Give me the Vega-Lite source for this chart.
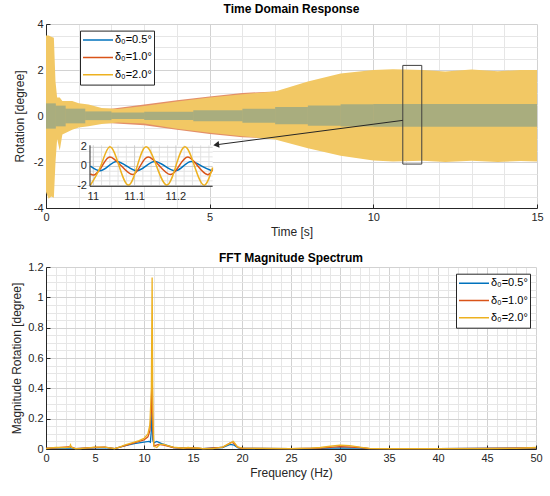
{
  "$schema": "https://vega.github.io/schema/vega-lite/v6.json",
  "padding": {"left": 10, "top": 3, "right": 4, "bottom": 4},
  "background": "white",
  "config": {
    "font": "Liberation Sans",
    "view": {"stroke": null},
    "axis": {
      "domainColor": "#262626", "labelColor": "#262626", "titleColor": "#262626",
      "labelFontSize": 11, "titleFontSize": 12, "titleFontWeight": "normal",
      "tickColor": "#262626", "labelOverlap": false, "labelFlush": false,
      "tickSize": -4, "labelPadding": 7, "grid": true
    },
    "title": {"fontSize": 12, "fontWeight": "bold", "color": "#000000"},
    "legend": {
      "symbolType": "stroke", "symbolSize": 900, "symbolStrokeWidth": 1.5,
      "labelFontSize": 11, "labelColor": "#000000", "strokeColor": "#262626",
      "fillColor": "#ffffff", "padding": 2, "clipHeight": 15, "rowPadding": 2.3,
      "labelOffset": 1, "cornerRadius": 0
    }
  },
  "datasets": {
    "blu": [
      {"t": 0, "t2": 0.3, "lo": -0.55, "hi": 0.55}, {"t": 0.3, "t2": 0.6, "lo": -0.45, "hi": 0.45},
      {"t": 0.6, "t2": 1.2, "lo": -0.32, "hi": 0.32}, {"t": 1.2, "t2": 2.0, "lo": -0.18, "hi": 0.2},
      {"t": 2.0, "t2": 3.0, "lo": -0.13, "hi": 0.15}, {"t": 3.0, "t2": 4.5, "lo": -0.17, "hi": 0.19},
      {"t": 4.5, "t2": 6.0, "lo": -0.23, "hi": 0.25}, {"t": 6.0, "t2": 7.0, "lo": -0.29, "hi": 0.31},
      {"t": 7.0, "t2": 8.0, "lo": -0.36, "hi": 0.39}, {"t": 8.0, "t2": 9.0, "lo": -0.42, "hi": 0.46},
      {"t": 9.0, "t2": 10.0, "lo": -0.46, "hi": 0.51}, {"t": 10.0, "t2": 15.0, "lo": -0.47, "hi": 0.52}
    ],
    "env": [
      {"s": "b", "t": 0, "lo": -1.3, "hi": 1.3}, {"s": "b", "t": 0.2, "lo": -1.3, "hi": 1.4},
      {"s": "b", "t": 0.3, "lo": -0.8, "hi": 0.7}, {"s": "b", "t": 0.6, "lo": -0.5, "hi": 0.5},
      {"s": "b", "t": 1.0, "lo": -0.35, "hi": 0.38}, {"s": "b", "t": 1.5, "lo": -0.3, "hi": 0.3},
      {"s": "b", "t": 2.0, "lo": -0.32, "hi": 0.32}, {"s": "b", "t": 3.0, "lo": -0.4, "hi": 0.5},
      {"s": "b", "t": 4.0, "lo": -0.6, "hi": 0.68}, {"s": "b", "t": 5.0, "lo": -0.78, "hi": 0.85},
      {"s": "b", "t": 6.0, "lo": -0.92, "hi": 1.0}, {"s": "b", "t": 7.0, "lo": -0.99, "hi": 1.07},
      {"s": "b", "t": 9.0, "lo": -1.0, "hi": 1.07}, {"s": "b", "t": 12.0, "lo": -1.0, "hi": 1.06},
      {"s": "b", "t": 15.0, "lo": -1.0, "hi": 1.05},
      {"s": "c", "t": 0, "lo": -3.3, "hi": 3.5}, {"s": "c", "t": 0.08, "lo": -3.6, "hi": 3.5},
      {"s": "c", "t": 0.16, "lo": -3.5, "hi": 3.45}, {"s": "c", "t": 0.24, "lo": -3.55, "hi": 3.4},
      {"s": "c", "t": 0.29, "lo": -2.0, "hi": 1.5}, {"s": "c", "t": 0.34, "lo": -1.0, "hi": 0.8},
      {"s": "c", "t": 0.42, "lo": -1.5, "hi": 0.8}, {"s": "c", "t": 0.5, "lo": -0.8, "hi": 0.65},
      {"s": "c", "t": 0.8, "lo": -0.6, "hi": 0.65}, {"s": "c", "t": 1.0, "lo": -0.5, "hi": 0.55},
      {"s": "c", "t": 1.3, "lo": -0.45, "hi": 0.5}, {"s": "c", "t": 1.7, "lo": -0.35, "hi": 0.35},
      {"s": "c", "t": 2.2, "lo": -0.28, "hi": 0.3}, {"s": "c", "t": 3.0, "lo": -0.33, "hi": 0.44},
      {"s": "c", "t": 4.0, "lo": -0.55, "hi": 0.63}, {"s": "c", "t": 5.0, "lo": -0.73, "hi": 0.8},
      {"s": "c", "t": 6.0, "lo": -0.88, "hi": 0.95}, {"s": "c", "t": 7.0, "lo": -1.02, "hi": 1.07},
      {"s": "c", "t": 8.0, "lo": -1.4, "hi": 1.5}, {"s": "c", "t": 9.0, "lo": -1.73, "hi": 1.85},
      {"s": "c", "t": 10.0, "lo": -1.94, "hi": 2.0}, {"s": "c", "t": 10.6, "lo": -1.98, "hi": 2.03},
      {"s": "c", "t": 11.5, "lo": -1.95, "hi": 2.0}, {"s": "c", "t": 12.2, "lo": -2.0, "hi": 1.94},
      {"s": "c", "t": 13.0, "lo": -1.95, "hi": 2.02}, {"s": "c", "t": 13.8, "lo": -2.0, "hi": 1.95},
      {"s": "c", "t": 14.5, "lo": -1.96, "hi": 2.0}, {"s": "c", "t": 15.0, "lo": -1.98, "hi": 2.0}
    ],
    "ins": [
      {"s": "δ₀=0.5°", "t": 10.993, "y": 0.035}, {"s": "δ₀=0.5°", "t": 11.016, "y": -0.45},
      {"s": "δ₀=0.5°", "t": 11.0365, "y": 0.035}, {"s": "δ₀=0.5°", "t": 11.057, "y": 0.52},
      {"s": "δ₀=0.5°", "t": 11.081, "y": 0.035}, {"s": "δ₀=0.5°", "t": 11.105, "y": -0.45},
      {"s": "δ₀=0.5°", "t": 11.127, "y": 0.035}, {"s": "δ₀=0.5°", "t": 11.149, "y": 0.52},
      {"s": "δ₀=0.5°", "t": 11.1735, "y": 0.035}, {"s": "δ₀=0.5°", "t": 11.198, "y": -0.45},
      {"s": "δ₀=0.5°", "t": 11.218, "y": 0.035}, {"s": "δ₀=0.5°", "t": 11.238, "y": 0.52},
      {"s": "δ₀=0.5°", "t": 11.2625, "y": 0.035}, {"s": "δ₀=0.5°", "t": 11.287, "y": -0.45},
      {"s": "δ₀=1.0°", "t": 10.993, "y": -0.78}, {"s": "δ₀=1.0°", "t": 11.004, "y": -0.85},
      {"s": "δ₀=1.0°", "t": 11.022, "y": 0.075}, {"s": "δ₀=1.0°", "t": 11.040, "y": 1.0},
      {"s": "δ₀=1.0°", "t": 11.0675, "y": 0.075}, {"s": "δ₀=1.0°", "t": 11.095, "y": -0.85},
      {"s": "δ₀=1.0°", "t": 11.114, "y": 0.075}, {"s": "δ₀=1.0°", "t": 11.133, "y": 1.0},
      {"s": "δ₀=1.0°", "t": 11.160, "y": 0.075}, {"s": "δ₀=1.0°", "t": 11.187, "y": -0.85},
      {"s": "δ₀=1.0°", "t": 11.208, "y": 0.075}, {"s": "δ₀=1.0°", "t": 11.229, "y": 1.0},
      {"s": "δ₀=1.0°", "t": 11.2525, "y": 0.075}, {"s": "δ₀=1.0°", "t": 11.276, "y": -0.85},
      {"s": "δ₀=1.0°", "t": 11.289, "y": -0.3},
      {"s": "δ₀=2.0°", "t": 10.993, "y": -1.95}, {"s": "δ₀=2.0°", "t": 11.018, "y": 0.05},
      {"s": "δ₀=2.0°", "t": 11.040, "y": 2.05}, {"s": "δ₀=2.0°", "t": 11.0625, "y": 0.05},
      {"s": "δ₀=2.0°", "t": 11.085, "y": -1.95}, {"s": "δ₀=2.0°", "t": 11.1065, "y": 0.05},
      {"s": "δ₀=2.0°", "t": 11.128, "y": 2.05}, {"s": "δ₀=2.0°", "t": 11.153, "y": 0.05},
      {"s": "δ₀=2.0°", "t": 11.178, "y": -1.95}, {"s": "δ₀=2.0°", "t": 11.200, "y": 0.05},
      {"s": "δ₀=2.0°", "t": 11.222, "y": 2.05}, {"s": "δ₀=2.0°", "t": 11.245, "y": 0.05},
      {"s": "δ₀=2.0°", "t": 11.268, "y": -1.95}, {"s": "δ₀=2.0°", "t": 11.289, "y": -0.1}
    ],
    "fft": [
      {"s": "δ₀=0.5°", "f": 0, "m": 0.004}, {"s": "δ₀=0.5°", "f": 1, "m": 0.006},
      {"s": "δ₀=0.5°", "f": 2.5, "m": 0.008}, {"s": "δ₀=0.5°", "f": 3, "m": 0.002},
      {"s": "δ₀=0.5°", "f": 5, "m": 0.008}, {"s": "δ₀=0.5°", "f": 6, "m": 0.01},
      {"s": "δ₀=0.5°", "f": 7, "m": 0.003}, {"s": "δ₀=0.5°", "f": 8, "m": 0.02},
      {"s": "δ₀=0.5°", "f": 9, "m": 0.035}, {"s": "δ₀=0.5°", "f": 10, "m": 0.045},
      {"s": "δ₀=0.5°", "f": 10.5, "m": 0.05}, {"s": "δ₀=0.5°", "f": 10.65, "m": 0.045},
      {"s": "δ₀=0.5°", "f": 10.75, "m": 0.12}, {"s": "δ₀=0.5°", "f": 10.83, "m": 0.28},
      {"s": "δ₀=0.5°", "f": 10.9, "m": 0.06}, {"s": "δ₀=0.5°", "f": 11.0, "m": 0.04},
      {"s": "δ₀=0.5°", "f": 11.3, "m": 0.05}, {"s": "δ₀=0.5°", "f": 11.8, "m": 0.035},
      {"s": "δ₀=0.5°", "f": 12.5, "m": 0.02}, {"s": "δ₀=0.5°", "f": 13, "m": 0.01},
      {"s": "δ₀=0.5°", "f": 14, "m": 0.005}, {"s": "δ₀=0.5°", "f": 15, "m": 0.005},
      {"s": "δ₀=0.5°", "f": 16, "m": 0.002}, {"s": "δ₀=0.5°", "f": 18, "m": 0.01},
      {"s": "δ₀=0.5°", "f": 18.8, "m": 0.03}, {"s": "δ₀=0.5°", "f": 19.2, "m": 0.025},
      {"s": "δ₀=0.5°", "f": 19.6, "m": 0.008}, {"s": "δ₀=0.5°", "f": 20, "m": 0.004},
      {"s": "δ₀=0.5°", "f": 25, "m": 0.002}, {"s": "δ₀=0.5°", "f": 28, "m": 0.004},
      {"s": "δ₀=0.5°", "f": 30, "m": 0.008}, {"s": "δ₀=0.5°", "f": 32, "m": 0.006},
      {"s": "δ₀=0.5°", "f": 33, "m": 0.002}, {"s": "δ₀=0.5°", "f": 40, "m": 0.002},
      {"s": "δ₀=0.5°", "f": 50, "m": 0.006},
      {"s": "δ₀=1.0°", "f": 0, "m": 0.005}, {"s": "δ₀=1.0°", "f": 1, "m": 0.008},
      {"s": "δ₀=1.0°", "f": 2.5, "m": 0.015}, {"s": "δ₀=1.0°", "f": 3, "m": 0.003},
      {"s": "δ₀=1.0°", "f": 5, "m": 0.01}, {"s": "δ₀=1.0°", "f": 6, "m": 0.012},
      {"s": "δ₀=1.0°", "f": 7, "m": 0.003}, {"s": "δ₀=1.0°", "f": 8, "m": 0.02},
      {"s": "δ₀=1.0°", "f": 9, "m": 0.04}, {"s": "δ₀=1.0°", "f": 9.5, "m": 0.05},
      {"s": "δ₀=1.0°", "f": 10, "m": 0.06}, {"s": "δ₀=1.0°", "f": 10.4, "m": 0.08},
      {"s": "δ₀=1.0°", "f": 10.6, "m": 0.12}, {"s": "δ₀=1.0°", "f": 10.75, "m": 0.25},
      {"s": "δ₀=1.0°", "f": 10.83, "m": 0.56}, {"s": "δ₀=1.0°", "f": 10.9, "m": 0.12},
      {"s": "δ₀=1.0°", "f": 11.0, "m": 0.02}, {"s": "δ₀=1.0°", "f": 11.5, "m": 0.03},
      {"s": "δ₀=1.0°", "f": 12, "m": 0.025}, {"s": "δ₀=1.0°", "f": 13, "m": 0.01},
      {"s": "δ₀=1.0°", "f": 14, "m": 0.005}, {"s": "δ₀=1.0°", "f": 15, "m": 0.007},
      {"s": "δ₀=1.0°", "f": 16, "m": 0.002}, {"s": "δ₀=1.0°", "f": 18, "m": 0.01},
      {"s": "δ₀=1.0°", "f": 18.8, "m": 0.04}, {"s": "δ₀=1.0°", "f": 19, "m": 0.045},
      {"s": "δ₀=1.0°", "f": 19.3, "m": 0.03}, {"s": "δ₀=1.0°", "f": 19.6, "m": 0.01},
      {"s": "δ₀=1.0°", "f": 20, "m": 0.005}, {"s": "δ₀=1.0°", "f": 25, "m": 0.003},
      {"s": "δ₀=1.0°", "f": 28, "m": 0.006}, {"s": "δ₀=1.0°", "f": 30, "m": 0.015},
      {"s": "δ₀=1.0°", "f": 32, "m": 0.01}, {"s": "δ₀=1.0°", "f": 33, "m": 0.003},
      {"s": "δ₀=1.0°", "f": 40, "m": 0.002}, {"s": "δ₀=1.0°", "f": 50, "m": 0.008},
      {"s": "δ₀=2.0°", "f": 0, "m": 0.003}, {"s": "δ₀=2.0°", "f": 0.5, "m": 0.008},
      {"s": "δ₀=2.0°", "f": 1, "m": 0.01}, {"s": "δ₀=2.0°", "f": 2, "m": 0.01},
      {"s": "δ₀=2.0°", "f": 2.4, "m": 0.012}, {"s": "δ₀=2.0°", "f": 2.5, "m": 0.028},
      {"s": "δ₀=2.0°", "f": 2.6, "m": 0.01}, {"s": "δ₀=2.0°", "f": 3, "m": 0.003},
      {"s": "δ₀=2.0°", "f": 3.5, "m": 0.002}, {"s": "δ₀=2.0°", "f": 4, "m": 0.006},
      {"s": "δ₀=2.0°", "f": 5, "m": 0.012}, {"s": "δ₀=2.0°", "f": 6, "m": 0.013},
      {"s": "δ₀=2.0°", "f": 6.5, "m": 0.008}, {"s": "δ₀=2.0°", "f": 7, "m": 0.002},
      {"s": "δ₀=2.0°", "f": 7.5, "m": 0.012}, {"s": "δ₀=2.0°", "f": 8, "m": 0.025},
      {"s": "δ₀=2.0°", "f": 9, "m": 0.045}, {"s": "δ₀=2.0°", "f": 9.5, "m": 0.055},
      {"s": "δ₀=2.0°", "f": 10, "m": 0.07}, {"s": "δ₀=2.0°", "f": 10.4, "m": 0.1},
      {"s": "δ₀=2.0°", "f": 10.6, "m": 0.16}, {"s": "δ₀=2.0°", "f": 10.75, "m": 0.4},
      {"s": "δ₀=2.0°", "f": 10.83, "m": 1.13}, {"s": "δ₀=2.0°", "f": 10.9, "m": 0.25},
      {"s": "δ₀=2.0°", "f": 11.0, "m": 0.02}, {"s": "δ₀=2.0°", "f": 11.3, "m": 0.01},
      {"s": "δ₀=2.0°", "f": 11.6, "m": 0.03}, {"s": "δ₀=2.0°", "f": 12, "m": 0.03},
      {"s": "δ₀=2.0°", "f": 12.5, "m": 0.02}, {"s": "δ₀=2.0°", "f": 13, "m": 0.012},
      {"s": "δ₀=2.0°", "f": 14, "m": 0.005}, {"s": "δ₀=2.0°", "f": 14.5, "m": 0.01},
      {"s": "δ₀=2.0°", "f": 15, "m": 0.006}, {"s": "δ₀=2.0°", "f": 15.5, "m": 0.008},
      {"s": "δ₀=2.0°", "f": 16, "m": 0.002}, {"s": "δ₀=2.0°", "f": 17, "m": 0.003},
      {"s": "δ₀=2.0°", "f": 18, "m": 0.012}, {"s": "δ₀=2.0°", "f": 18.7, "m": 0.035},
      {"s": "δ₀=2.0°", "f": 19, "m": 0.045}, {"s": "δ₀=2.0°", "f": 19.1, "m": 0.05},
      {"s": "δ₀=2.0°", "f": 19.3, "m": 0.035}, {"s": "δ₀=2.0°", "f": 19.5, "m": 0.015},
      {"s": "δ₀=2.0°", "f": 20, "m": 0.006}, {"s": "δ₀=2.0°", "f": 22, "m": 0.004},
      {"s": "δ₀=2.0°", "f": 25, "m": 0.003}, {"s": "δ₀=2.0°", "f": 27, "m": 0.006},
      {"s": "δ₀=2.0°", "f": 28, "m": 0.01}, {"s": "δ₀=2.0°", "f": 29, "m": 0.018},
      {"s": "δ₀=2.0°", "f": 30, "m": 0.025}, {"s": "δ₀=2.0°", "f": 31, "m": 0.022},
      {"s": "δ₀=2.0°", "f": 32, "m": 0.012}, {"s": "δ₀=2.0°", "f": 33, "m": 0.004},
      {"s": "δ₀=2.0°", "f": 35, "m": 0.003}, {"s": "δ₀=2.0°", "f": 40, "m": 0.003},
      {"s": "δ₀=2.0°", "f": 45, "m": 0.003}, {"s": "δ₀=2.0°", "f": 48, "m": 0.004},
      {"s": "δ₀=2.0°", "f": 50, "m": 0.01}
    ]
  },
  "spacing": 15,
  "resolve": {"scale": {"color": "independent"}, "legend": {"color": "independent"}},
  "vconcat": [
    {
      "width": 491,
      "height": 184,
      "title": {"text": "Time Domain Response", "offset": 2},
      "resolve": {"scale": {"x": "independent", "y": "independent"}},
      "layer": [
        {
          "encoding": {
            "x": {
              "field": "t", "type": "quantitative", "title": "Time [s]",
              "scale": {"domain": [0, 15], "nice": false, "zero": false},
              "axis": {
                "values": [0, 1, 2, 3, 4, 5, 6, 7, 8, 9, 10, 11, 12, 13, 14, 15],
                "labelExpr": "datum.value % 5 == 0 ? '' + datum.value : ''",
                "gridColor": {"condition": {"test": "datum.value % 5 == 0", "value": "#d2d2d2"}, "value": "#e6e6e6"},
                "tickOpacity": {"condition": {"test": "datum.value % 5 == 0", "value": 1}, "value": 0},
                "titlePadding": 4
              }
            },
            "y": {
              "field": "hi", "type": "quantitative", "title": "Rotation [degree]",
              "scale": {"domain": [-4, 4], "nice": false, "zero": false},
              "axis": {
                "values": [-4, -3.5, -3, -2.5, -2, -1.5, -1, -0.5, 0, 0.5, 1, 1.5, 2, 2.5, 3, 3.5, 4],
                "labelExpr": "datum.value % 2 == 0 ? '' + datum.value : ''",
                "gridColor": {"condition": {"test": "datum.value % 2 == 0", "value": "#d2d2d2"}, "value": "#e6e6e6"},
                "tickOpacity": {"condition": {"test": "datum.value % 2 == 0", "value": 1}, "value": 0},
                "titlePadding": 7
              }
            }
          },
          "layer": [
            {
              "data": {"name": "env"},
              "transform": [{"filter": "datum.s == 'b'"}],
              "mark": {"type": "area", "color": "#E38F69", "opacity": 1},
              "encoding": {"y2": {"field": "lo"}}
            },
            {
              "data": {"name": "env"},
              "transform": [{"filter": "datum.s == 'c'"}],
              "mark": {"type": "area", "color": "#F2C864", "opacity": 1},
              "encoding": {"y2": {"field": "lo"}}
            },
            {
              "data": {"name": "blu"},
              "mark": {"type": "rect", "color": "#0072BD", "opacity": 0.3},
              "encoding": {"x2": {"field": "t2"}, "y2": {"field": "lo"}}
            },
            {
              "data": {"values": [{"t": 10.9, "t2": 11.48, "hi": 2.2, "lo": -2.09}]},
              "mark": {"type": "rect", "fill": null, "stroke": "#404040", "strokeWidth": 1},
              "encoding": {"x2": {"field": "t2"}, "y2": {"field": "lo"}}
            },
            {
              "data": {"values": [{"t": 10.9, "t2": 5.18, "hi": -0.19, "lo": -1.255}]},
              "mark": {"type": "rule", "color": "#262626", "strokeWidth": 1},
              "encoding": {"x2": {"field": "t2"}, "y2": {"field": "lo"}}
            },
            {
              "data": {"values": [{"t": 5.2, "hi": -1.253}]},
              "mark": {"type": "point", "shape": "triangle-left", "filled": true, "color": "#262626", "size": 45, "angle": 352.5, "opacity": 1}
            }
          ]
        },
        {
          "layer": [
            {
              "data": {"values": [{}]},
              "mark": {"type": "rect", "fill": "white"},
              "encoding": {
                "x": {"datum": 10.992, "type": "quantitative", "scale": {"domain": [10.8855, 12.0743], "nice": false, "zero": false}, "axis": null},
                "x2": {"datum": 11.289},
                "y": {"datum": 2.209, "type": "quantitative", "scale": {"domain": [-4.339, 14.877], "nice": false, "zero": false}, "axis": null},
                "y2": {"datum": -2.073}
              }
            },
            {
              "data": {"values": [11.02, 11.04, 11.06, 11.08, 11.12, 11.14, 11.16, 11.18, 11.22, 11.24, 11.26, 11.28]},
              "mark": {"type": "rule", "color": "#e3e3e3", "strokeWidth": 1},
              "encoding": {
                "x": {"field": "data", "type": "quantitative", "scale": {"domain": [10.8855, 12.0743], "nice": false, "zero": false}, "axis": null},
                "y": {"datum": -2.073, "type": "quantitative", "scale": {"domain": [-4.339, 14.877], "nice": false, "zero": false}, "axis": null},
                "y2": {"datum": 2.209}
              }
            },
            {
              "data": {"values": [-1.5, -1, -0.5, 0.5, 1, 1.5]},
              "mark": {"type": "rule", "color": "#e3e3e3", "strokeWidth": 1},
              "encoding": {
                "y": {"field": "data", "type": "quantitative", "scale": {"domain": [-4.339, 14.877], "nice": false, "zero": false}, "axis": null},
                "x": {"datum": 10.992, "type": "quantitative", "scale": {"domain": [10.8855, 12.0743], "nice": false, "zero": false}, "axis": null},
                "x2": {"datum": 11.289}
              }
            },
            {
              "data": {"values": [11, 11.1, 11.2]},
              "mark": {"type": "rule", "color": "#cfcfcf", "strokeWidth": 1},
              "encoding": {
                "x": {"field": "data", "type": "quantitative", "scale": {"domain": [10.8855, 12.0743], "nice": false, "zero": false}, "axis": null},
                "y": {"datum": -2.073, "type": "quantitative", "scale": {"domain": [-4.339, 14.877], "nice": false, "zero": false}, "axis": null},
                "y2": {"datum": 2.209}
              }
            },
            {
              "data": {"values": [-2, 0, 2]},
              "mark": {"type": "rule", "color": "#cfcfcf", "strokeWidth": 1},
              "encoding": {
                "y": {"field": "data", "type": "quantitative", "scale": {"domain": [-4.339, 14.877], "nice": false, "zero": false}, "axis": null},
                "x": {"datum": 10.992, "type": "quantitative", "scale": {"domain": [10.8855, 12.0743], "nice": false, "zero": false}, "axis": null},
                "x2": {"datum": 11.289}
              }
            },
            {
              "data": {"name": "ins"},
              "mark": {"type": "line", "interpolate": "natural", "strokeWidth": 1.5},
              "encoding": {
                "x": {"field": "t", "type": "quantitative", "scale": {"domain": [10.8855, 12.0743], "nice": false, "zero": false}, "axis": null},
                "y": {"field": "y", "type": "quantitative", "scale": {"domain": [-4.339, 14.877], "nice": false, "zero": false}, "axis": null},
                "color": {
                  "field": "s", "type": "nominal",
                  "scale": {"domain": ["δ₀=0.5°", "δ₀=1.0°", "δ₀=2.0°"], "range": ["#0072BD", "#D95319", "#EDB120"]},
                  "legend": {"title": null, "orient": "none", "legendX": 34, "legendY": 6.6}
                }
              }
            },
            {
              "data": {"values": [{}]},
              "mark": {"type": "rule", "color": "#262626", "strokeWidth": 1},
              "encoding": {
                "x": {"datum": 10.992, "type": "quantitative", "scale": {"domain": [10.8855, 12.0743], "nice": false, "zero": false}, "axis": null},
                "y": {"datum": -2.073, "type": "quantitative", "scale": {"domain": [-4.339, 14.877], "nice": false, "zero": false}, "axis": null},
                "y2": {"datum": 2.209}
              }
            },
            {
              "data": {"values": [{}]},
              "mark": {"type": "rule", "color": "#262626", "strokeWidth": 1},
              "encoding": {
                "x": {"datum": 10.992, "type": "quantitative", "scale": {"domain": [10.8855, 12.0743], "nice": false, "zero": false}, "axis": null},
                "x2": {"datum": 11.289},
                "y": {"datum": -2.073, "type": "quantitative", "scale": {"domain": [-4.339, 14.877], "nice": false, "zero": false}, "axis": null}
              }
            },
            {
              "data": {"values": [2, 0, -2]},
              "mark": {"type": "text", "align": "right", "baseline": "middle", "dx": -3, "fontSize": 11, "color": "#262626"},
              "encoding": {
                "x": {"datum": 10.992, "type": "quantitative", "scale": {"domain": [10.8855, 12.0743], "nice": false, "zero": false}, "axis": null},
                "y": {"field": "data", "type": "quantitative", "scale": {"domain": [-4.339, 14.877], "nice": false, "zero": false}, "axis": null},
                "text": {"field": "data", "type": "nominal"}
              }
            },
            {
              "data": {"values": [11, 11.1, 11.2]},
              "mark": {"type": "text", "align": "center", "baseline": "top", "dy": 5, "fontSize": 11, "color": "#262626"},
              "encoding": {
                "x": {"field": "data", "type": "quantitative", "scale": {"domain": [10.8855, 12.0743], "nice": false, "zero": false}, "axis": null},
                "y": {"datum": -2.073, "type": "quantitative", "scale": {"domain": [-4.339, 14.877], "nice": false, "zero": false}, "axis": null},
                "text": {"field": "data", "type": "nominal"}
              }
            }
          ]
        }
      ]
    },
    {
      "width": 490,
      "height": 182,
      "title": {"text": "FFT Magnitude Spectrum", "offset": -4},
      "data": {"name": "fft"},
      "mark": {"type": "line", "strokeWidth": 1.3},
      "encoding": {
        "x": {
          "field": "f", "type": "quantitative", "title": "Frequency (Hz)",
          "scale": {"domain": [0, 50], "nice": false, "zero": false},
          "axis": {
            "values": [0, 1, 2, 3, 4, 5, 6, 7, 8, 9, 10, 11, 12, 13, 14, 15, 16, 17, 18, 19, 20, 21, 22, 23, 24, 25, 26, 27, 28, 29, 30, 31, 32, 33, 34, 35, 36, 37, 38, 39, 40, 41, 42, 43, 44, 45, 46, 47, 48, 49, 50],
            "labelExpr": "datum.value % 5 == 0 ? '' + datum.value : ''",
            "gridColor": {"condition": {"test": "datum.value % 5 == 0", "value": "#d2d2d2"}, "value": "#e6e6e6"},
            "tickOpacity": {"condition": {"test": "datum.value % 5 == 0", "value": 1}, "value": 0},
            "titlePadding": 4
          }
        },
        "y": {
          "field": "m", "type": "quantitative", "title": "Magnitude Rotation [degree]",
          "scale": {"domain": [0, 1.2], "nice": false},
          "axis": {
            "values": [0, 0.05, 0.1, 0.15, 0.2, 0.25, 0.3, 0.35, 0.4, 0.45, 0.5, 0.55, 0.6, 0.65, 0.7, 0.75, 0.8, 0.85, 0.9, 0.95, 1, 1.05, 1.1, 1.15, 1.2],
            "labelExpr": "abs(datum.value * 5 - round(datum.value * 5)) < 0.001 ? '' + datum.value : ''",
            "gridColor": {"condition": {"test": "abs(datum.value * 5 - round(datum.value * 5)) < 0.001", "value": "#d2d2d2"}, "value": "#e6e6e6"},
            "tickOpacity": {"condition": {"test": "abs(datum.value * 5 - round(datum.value * 5)) < 0.001", "value": 1}, "value": 0},
            "titlePadding": 4
          }
        },
        "color": {
          "field": "s", "type": "nominal",
          "scale": {"domain": ["δ₀=0.5°", "δ₀=1.0°", "δ₀=2.0°"], "range": ["#0072BD", "#D95319", "#EDB120"]},
          "legend": {"title": null, "orient": "none", "legendX": 410, "legendY": 6.7}
        }
      }
    }
  ]
}
